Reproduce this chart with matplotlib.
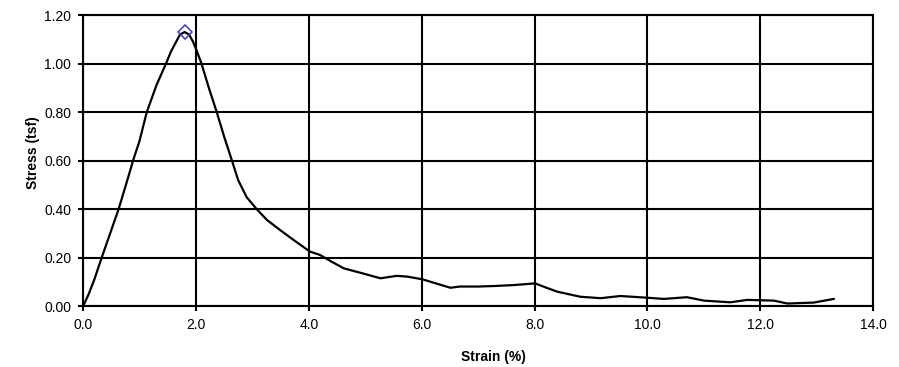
import matplotlib
matplotlib.use("Agg")
import matplotlib.pyplot as plt

plt.rcParams['font.family'] = ['Liberation Sans', 'DejaVu Sans']

# Stress-strain curve
strain = [0.0, 0.10, 0.20, 0.33, 0.48, 0.63, 0.76, 0.90, 1.00, 1.13, 1.30, 1.47,
          1.56, 1.65, 1.72, 1.80, 1.88, 1.95, 2.02, 2.10, 2.23, 2.37, 2.50, 2.64,
          2.75, 2.90, 3.08, 3.26, 3.49, 3.73, 4.02, 4.20, 4.40, 4.62, 4.91, 5.27,
          5.56, 5.74, 6.01, 6.25, 6.51, 6.68, 7.00, 7.27, 7.63, 8.01, 8.20, 8.40,
          8.81, 9.17, 9.52, 9.99, 10.29, 10.70, 11.00, 11.47, 11.77, 12.24, 12.48,
          12.95, 13.30]
stress = [0.00, 0.05, 0.11, 0.20, 0.30, 0.40, 0.50, 0.61, 0.68, 0.80, 0.91, 1.00,
          1.05, 1.09, 1.12, 1.13, 1.12, 1.09, 1.05, 1.00, 0.90, 0.80, 0.70, 0.60,
          0.52, 0.45, 0.40, 0.356, 0.315, 0.274, 0.226, 0.212, 0.185, 0.157, 0.139,
          0.116, 0.126, 0.123, 0.112, 0.095, 0.077, 0.082, 0.082, 0.084, 0.088, 0.095,
          0.078, 0.061, 0.040, 0.034, 0.043, 0.036, 0.031, 0.038, 0.024, 0.017, 0.027,
          0.024, 0.012, 0.016, 0.031]

# Peak point
peak_strain = [1.80]
peak_stress = [1.13]

x_ticks = [0.0, 2.0, 4.0, 6.0, 8.0, 10.0, 12.0, 14.0]
y_ticks = [0.00, 0.20, 0.40, 0.60, 0.80, 1.00, 1.20]

fig = plt.figure(figsize=(8.99, 3.67), dpi=100)
ax = fig.add_axes([0.0923, 0.165, 0.879, 0.794])

ax.plot(strain, stress, color='black', linewidth=1.6, zorder=3,
        solid_joinstyle='round')
ax.plot(peak_strain, peak_stress, linestyle='none', marker='D', markersize=7,
        markerfacecolor='none', markeredgecolor='#3a3ad0', markeredgewidth=1.1, zorder=4)

ax.set_xlim(0, 14)
ax.set_ylim(0, 1.2)
ax.set_xticks(x_ticks)
ax.set_yticks(y_ticks)
ax.set_xticklabels([f'{v:.1f}' for v in x_ticks])
ax.set_yticklabels([f'{v:.2f}' for v in y_ticks])
ax.grid(True, color='black', linewidth=1.5)
ax.set_axisbelow(True)
for s in ax.spines.values():
    s.set_linewidth(1.5)
    s.set_color('black')
ax.tick_params(axis='both', direction='out', length=3.5, width=1.5,
               labelsize=10, pad=5, colors='black')

ax.set_xlabel('Strain (%)', fontsize=10, fontweight='bold')
ax.set_ylabel('Stress (tsf)', fontsize=10, fontweight='bold')
ax.xaxis.set_label_coords(0.519, -0.148)
ax.yaxis.set_label_coords(-0.054, 0.527)

fig.savefig('out.png', dpi=100)
